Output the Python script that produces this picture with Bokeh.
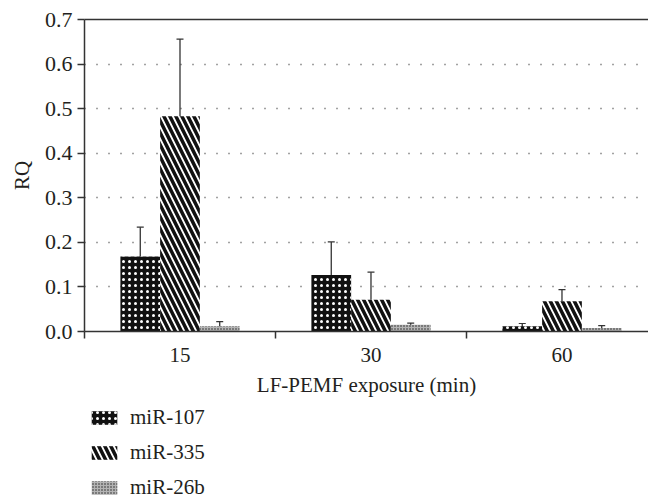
from bokeh.plotting import figure
from bokeh.layouts import column
from bokeh.models import (Range1d, FixedTicker, LinearAxis, Legend, LegendItem,
                          ColumnDataSource, Whisker, TeeHead)
from bokeh.embed import file_html
from bokeh.resources import INLINE

# ---- data ----
categories = ["15", "30", "60"]
mir107 = [0.168, 0.127, 0.012]
mir107_err = [0.066, 0.074, 0.006]
mir335 = [0.483, 0.071, 0.068]
mir335_err = [0.173, 0.062, 0.026]
mir26b = [0.012, 0.015, 0.008]
mir26b_err = [0.010, 0.004, 0.005]
series_names = ["miR-107", "miR-335", "miR-26b"]
y_ticks = [0.0, 0.1, 0.2, 0.3, 0.4, 0.5, 0.6, 0.7]

FONT = "Liberation Serif"
AXC = "#333333"
TXT = "#231f20"

centers = [i + 0.5 for i in range(len(categories))]
bw = 0.208
offsets = [-bw, 0.0, bw]

p = figure(width=648, height=405, output_backend="svg", toolbar_location=None,
           x_range=Range1d(0, 2.953), y_range=Range1d(0, 0.7),
           min_border_left=84, min_border_right=0, min_border_top=19,
           min_border_bottom=74)
p.outline_line_color = None

styles = [
    dict(fill_color="#111111", hatch_pattern="dot", hatch_color="white",
         hatch_scale=6, hatch_weight=1),
    dict(fill_color="white", hatch_pattern="left_diagonal_line", hatch_color="#111111",
         hatch_scale=12, hatch_weight=3.5),
    dict(fill_color="#b4b4b4", hatch_pattern="dot", hatch_color="#222222",
         hatch_scale=3, hatch_weight=1),
]

vals = [mir107, mir335, mir26b]
errs = [mir107_err, mir335_err, mir26b_err]
for k in range(3):
    xs = [c + offsets[k] for c in centers]
    src = ColumnDataSource(dict(x=xs, top=vals[k],
                                upper=[v + e for v, e in zip(vals[k], errs[k])],
                                lower=[max(v - e, 0) for v, e in zip(vals[k], errs[k])]))
    p.vbar(x="x", top="top", width=bw, bottom=0, source=src, line_color=None, **styles[k])
    w = Whisker(source=src, base="x", upper="upper", lower="lower", dimension="height",
                upper_head=TeeHead(size=7, line_color=AXC, line_width=1.2),
                lower_head=None, line_color=AXC, line_width=1.3)
    p.add_layout(w)

# grid
p.xgrid.visible = False
p.ygrid.ticker = FixedTicker(ticks=y_ticks[1:-1])
p.ygrid.grid_line_color = "#444444"
p.ygrid.grid_line_dash = "1 11"
p.ygrid.grid_line_width = 1.5

# y axis
ya = p.yaxis[0]
ya.ticker = FixedTicker(ticks=y_ticks)
ya.major_label_overrides = {t: f"{t:.1f}" for t in y_ticks}
ya.major_label_text_font = FONT
ya.major_label_text_font_size = "22px"
ya.major_label_text_color = TXT
ya.major_label_standoff = 5
ya.major_tick_out = 7
ya.major_tick_in = 0
ya.minor_tick_line_color = None
ya.axis_line_color = AXC
ya.axis_line_width = 1.5
ya.major_tick_line_color = AXC
ya.major_tick_line_width = 1.5
ya.axis_label = "RQ"
ya.axis_label_text_font = FONT
ya.axis_label_text_font_size = "21px"
ya.axis_label_text_font_style = "normal"
ya.axis_label_text_color = TXT
ya.axis_label_standoff = 8

# x axis
xa = p.xaxis[0]
xa.ticker = FixedTicker(ticks=centers, minor_ticks=[0, 1, 2, 3])
xa.major_label_overrides = {c: lab for c, lab in zip(centers, categories)}
xa.major_label_text_font = FONT
xa.major_label_text_font_size = "21px"
xa.major_label_text_color = TXT
xa.major_label_standoff = 9
xa.major_tick_out = 0
xa.major_tick_in = 0
xa.minor_tick_out = 7
xa.minor_tick_in = 0
xa.minor_tick_line_color = AXC
xa.minor_tick_line_width = 1.5
xa.axis_line_color = AXC
xa.axis_line_width = 1.5
xa.axis_label = "LF-PEMF exposure (min)"
xa.axis_label_text_font = FONT
xa.axis_label_text_font_size = "21px"
xa.axis_label_text_font_style = "normal"
xa.axis_label_text_color = TXT
xa.axis_label_standoff = 8

# top border
top = LinearAxis(ticker=FixedTicker(ticks=[]), major_label_text_font_size="0px",
                 major_tick_line_color=None, minor_tick_line_color=None,
                 axis_line_color=AXC, axis_line_width=1.5)
p.add_layout(top, "above")

# legend figure
p2 = figure(width=648, height=93, output_backend="svg", toolbar_location=None,
            x_range=Range1d(0, 1), y_range=Range1d(0, 1),
            x_axis_location=None, y_axis_location=None,
            min_border_left=0, min_border_right=0, min_border_top=0, min_border_bottom=0)
p2.grid.visible = False
p2.outline_line_color = None
leg_renderers = []
for k in range(3):
    r = p2.vbar(x=[5.0], top=[0.5], width=0.1, line_color=None, **styles[k])
    leg_renderers.append(r)

legend = Legend(items=[LegendItem(label=n, renderers=[r]) for n, r in zip(series_names, leg_renderers)],
                location=(4, -2), orientation="vertical",
                label_text_font=FONT, label_text_font_size="21px", label_text_color=TXT,
                glyph_width=32, glyph_height=17, spacing=10, padding=0, margin=0,
                border_line_color=None, background_fill_alpha=0,
                label_standoff=10, label_height=20)
p2.add_layout(legend, "center")

open("out.html", "w").write(file_html(column(p, p2, spacing=0), INLINE))
